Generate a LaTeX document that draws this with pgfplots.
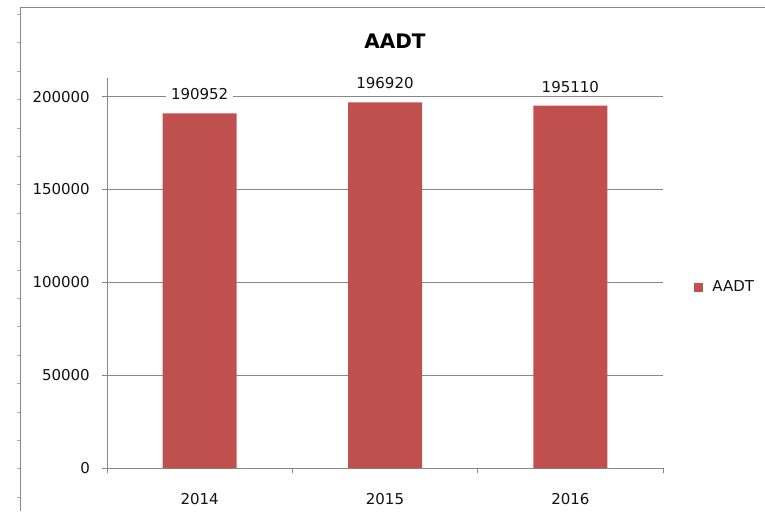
\documentclass[border=0pt]{standalone}
\usepackage{fontspec}
\setmainfont{DejaVu Sans}
\usepackage{pgfplots}
\pgfplotsset{compat=1.18}
\definecolor{barred}{HTML}{C0504D}
\definecolor{gridgray}{HTML}{878787}
\definecolor{txt}{HTML}{111111}
\begin{document}
\begin{tikzpicture}[x=1pt,y=1pt]
\path[use as bounding box] (0,0) rectangle (765,511);
% frame of the chart area
\draw[gridgray, line width=0.9pt] (20,0) -- (20,504) -- (765,504);
\foreach \k in {0,...,17} {
  \draw[gridgray!70, line width=0.6pt] (17,{511-14.3-28.4*\k}) -- (20,{511-14.3-28.4*\k});
}
\node[font=\fontsize{20}{24}\selectfont\bfseries, text=black] at (395,470) {AADT};
\begin{axis}[
  at={(107pt,43pt)}, anchor=south west,
  scale only axis, width=556pt, height=390pt,
  xmin=-0.5, xmax=2.5, ymin=0, ymax=210000,
  axis x line*=bottom, axis y line*=left,
  axis line style={-, draw=gridgray, line width=0.9pt},
  ybar, bar width=74pt,
  xtick={-0.5,0.5,1.5,2.5}, xticklabels={2014,2015,2016,{}},
  x tick label as interval,
  major tick length=5pt, tick align=outside,
  tick style={draw=gridgray, line width=0.9pt},
  ytick={0,50000,100000,150000,200000},
  ymajorgrids, grid style={draw=gridgray, line width=0.8pt},
  scaled y ticks=false,
  yticklabel style={/pgf/number format/fixed, /pgf/number format/1000 sep={}, inner sep=0pt, anchor=east, xshift=-12pt},
  xticklabel style={inner sep=0pt, anchor=north, yshift=-20pt},
  /pgf/number format/assume math mode=true,
  tick label style={font=\fontsize{15}{17}\selectfont, text=txt},
  nodes near coords={\pgfmathprintnumber[fixed,precision=0,1000 sep={}]{\pgfplotspointmeta}},
  nodes near coords style={anchor=center, yshift=19pt, fill=white, inner xsep=5pt, inner ysep=1pt, font=\fontsize{15}{17}\selectfont, text=txt},
  legend style={at={(1.056,0.464)}, anchor=west, draw=none, fill=none, font=\fontsize{15}{17}\selectfont, text=txt, inner sep=0pt},
  legend image code/.code={\fill[#1, draw=none] (0pt,-4.5pt) rectangle (9pt,4.5pt); \path (16pt,0pt);},
]
\addplot[fill=barred, draw=none] coordinates {(0,190952) (1,196920) (2,195110)};
\addlegendentry{AADT}
\end{axis}
\end{tikzpicture}
\end{document}
